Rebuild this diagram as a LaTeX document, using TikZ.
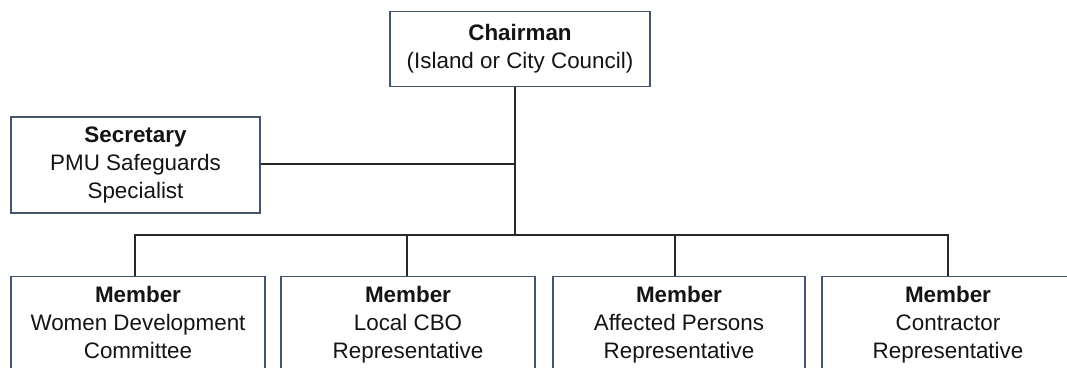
\documentclass[tikz,border=0pt]{standalone}
\usepackage{fontspec}
\setmainfont{Liberation Sans}
\definecolor{boxc}{RGB}{68,84,110}
\definecolor{linec}{RGB}{40,40,40}
\definecolor{txtc}{RGB}{20,20,20}
\begin{document}
\begin{tikzpicture}[x=1pt,y=-1pt,
  box/.style={draw=boxc,line width=1.4pt,fill=white,align=center,text=txtc,
    font=\fontsize{22.4}{28}\selectfont,inner sep=0pt},
  conn/.style={draw=linec,line width=1.8pt}]
\useasboundingbox (0,0) rectangle (1067,367);
\clip (0,0) rectangle (1067,367);
% top and secretary
\node[box,minimum width=260pt,minimum height=75pt] (chair) at (520,49) {\textbf{Chairman}\\(Island or City Council)};
\node[box,minimum width=249pt,minimum height=96pt] (sec) at (135.5,165) {\textbf{Secretary}\\PMU Safeguards\\Specialist};
% bottom members
\node[box,anchor=north,minimum width=254pt,inner ysep=10pt] (m1) at (138,276) {\textbf{Member}\\Women Development\\Committee\rule[-60pt]{0pt}{0pt}};
\node[box,anchor=north,minimum width=254pt,inner ysep=10pt] (m2) at (408,276) {\textbf{Member}\\Local CBO\\Representative\rule[-60pt]{0pt}{0pt}};
\node[box,anchor=north,minimum width=252pt,inner ysep=10pt] (m3) at (679,276) {\textbf{Member}\\Affected Persons\\Representative\rule[-60pt]{0pt}{0pt}};
\node[box,anchor=north,minimum width=252pt,inner ysep=10pt] (m4) at (948,276) {\textbf{Member}\\Contractor\\Representative\rule[-60pt]{0pt}{0pt}};
% connectors
\coordinate (bus) at (515,235);
\coordinate (jsec) at (515,164);
\draw[conn] (chair.south -| bus) -- (bus);
\draw[conn] (sec.east |- jsec) -- (jsec);
\draw[conn] (m1.north -| 135,0) |- (bus);
\draw[conn] (bus) -| (m4.north);
\draw[conn] (m2.north -| 407,0) -- (407,235);
\draw[conn] (m3.north -| 675,0) -- (675,235);
\end{tikzpicture}
\end{document}
